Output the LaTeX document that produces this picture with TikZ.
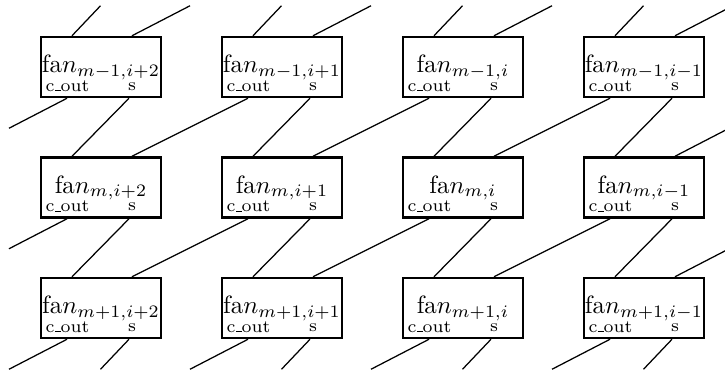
\documentclass[tikz,border=0pt]{standalone}
\usetikzlibrary{calc}
\newcommand{\lowbar}{\kern.06em\rule{.3em}{0.4pt}}
\begin{document}
\begin{tikzpicture}[x=0.4pt, y=-0.4pt,
            fanbox/.style={rectangle, draw, line width=1pt, minimum width=48pt, minimum height=24pt, inner sep=0pt},
            fanname/.style={anchor=base, inner sep=0pt},
            portname/.style={anchor=base, inner sep=0pt, font=\scriptsize},
            wire/.style={line width=0.5pt}]
            \path[use as bounding box, clip] (0,0) rectangle (725,375);
            % the twelve fan cells
            \foreach \r/\rs/\y in {1/m-1/67, 2/m/187.5, 3/m+1/308}
            \foreach \c/\cs/\x in {1/i+2/101, 2/i+1/282, 3/i/463, 4/i-1/644} {
              \node [fanbox] (fan-\r-\c) at (\x,\y) {};
              \node [fanname] (name-\r-\c) at ([yshift=-2.2pt]fan-\r-\c.center) {fa$n_{\rs,\cs}$};
              \node [portname] (cout-\r-\c) at ([xshift=-13.4pt, yshift=-9.7pt]fan-\r-\c.center) {c\lowbar out};
              \node [portname] (s-\r-\c) at ([xshift=12.4pt, yshift=-9.3pt]fan-\r-\c.center) {s};
              \coordinate (in-a-\r-\c) at ([xshift=-11.6pt]fan-\r-\c.north);
              \coordinate (in-b-\r-\c) at ([xshift=12.4pt]fan-\r-\c.north);
              \coordinate (out-c-\r-\c) at ([xshift=-13.6pt]fan-\r-\c.south);
              \coordinate (out-s-\r-\c) at ([xshift=11.2pt]fan-\r-\c.south);
            }
            % s goes straight down, c_out goes down one column to the left
            \foreach \r [evaluate=\r as \n using int(\r+1)] in {1,2} {
              \foreach \c in {1,...,4}
                \draw [wire] (out-s-\r-\c) -- (in-a-\n-\c);
              \foreach \c [evaluate=\c as \p using int(\c-1)] in {2,3,4}
                \draw [wire] (out-c-\r-\c) -- (in-b-\n-\p);
            }
            % loose ends at the edges
            \foreach \c in {1,...,4} {
              \coordinate (top-a-\c) at ($(in-a-1-\c)+(28.5,-30)$);
              \coordinate (top-b-\c) at ($(in-b-1-\c)+(58,-30)$);
              \coordinate (bot-c-\c) at ($(out-c-3-\c)+(-58,30)$);
              \coordinate (bot-s-\c) at ($(out-s-3-\c)+(-28.5,30)$);
              \draw [wire] (top-a-\c) -- (in-a-1-\c);
              \draw [wire] (top-b-\c) -- (in-b-1-\c);
              \draw [wire] (out-c-3-\c) -- (bot-c-\c);
              \draw [wire] (out-s-3-\c) -- (bot-s-\c);
            }
            \foreach \r [evaluate=\r as \n using int(\r+1)] in {1,2} {
              \coordinate (left-\r) at ($(out-c-\r-1)+(-58,30)$);
              \coordinate (right-\n) at ($(in-b-\n-4)+(58,-30)$);
              \draw [wire] (out-c-\r-1) -- (left-\r);
              \draw [wire] (right-\n) -- (in-b-\n-4);
            }
        \end{tikzpicture}
\end{document}
